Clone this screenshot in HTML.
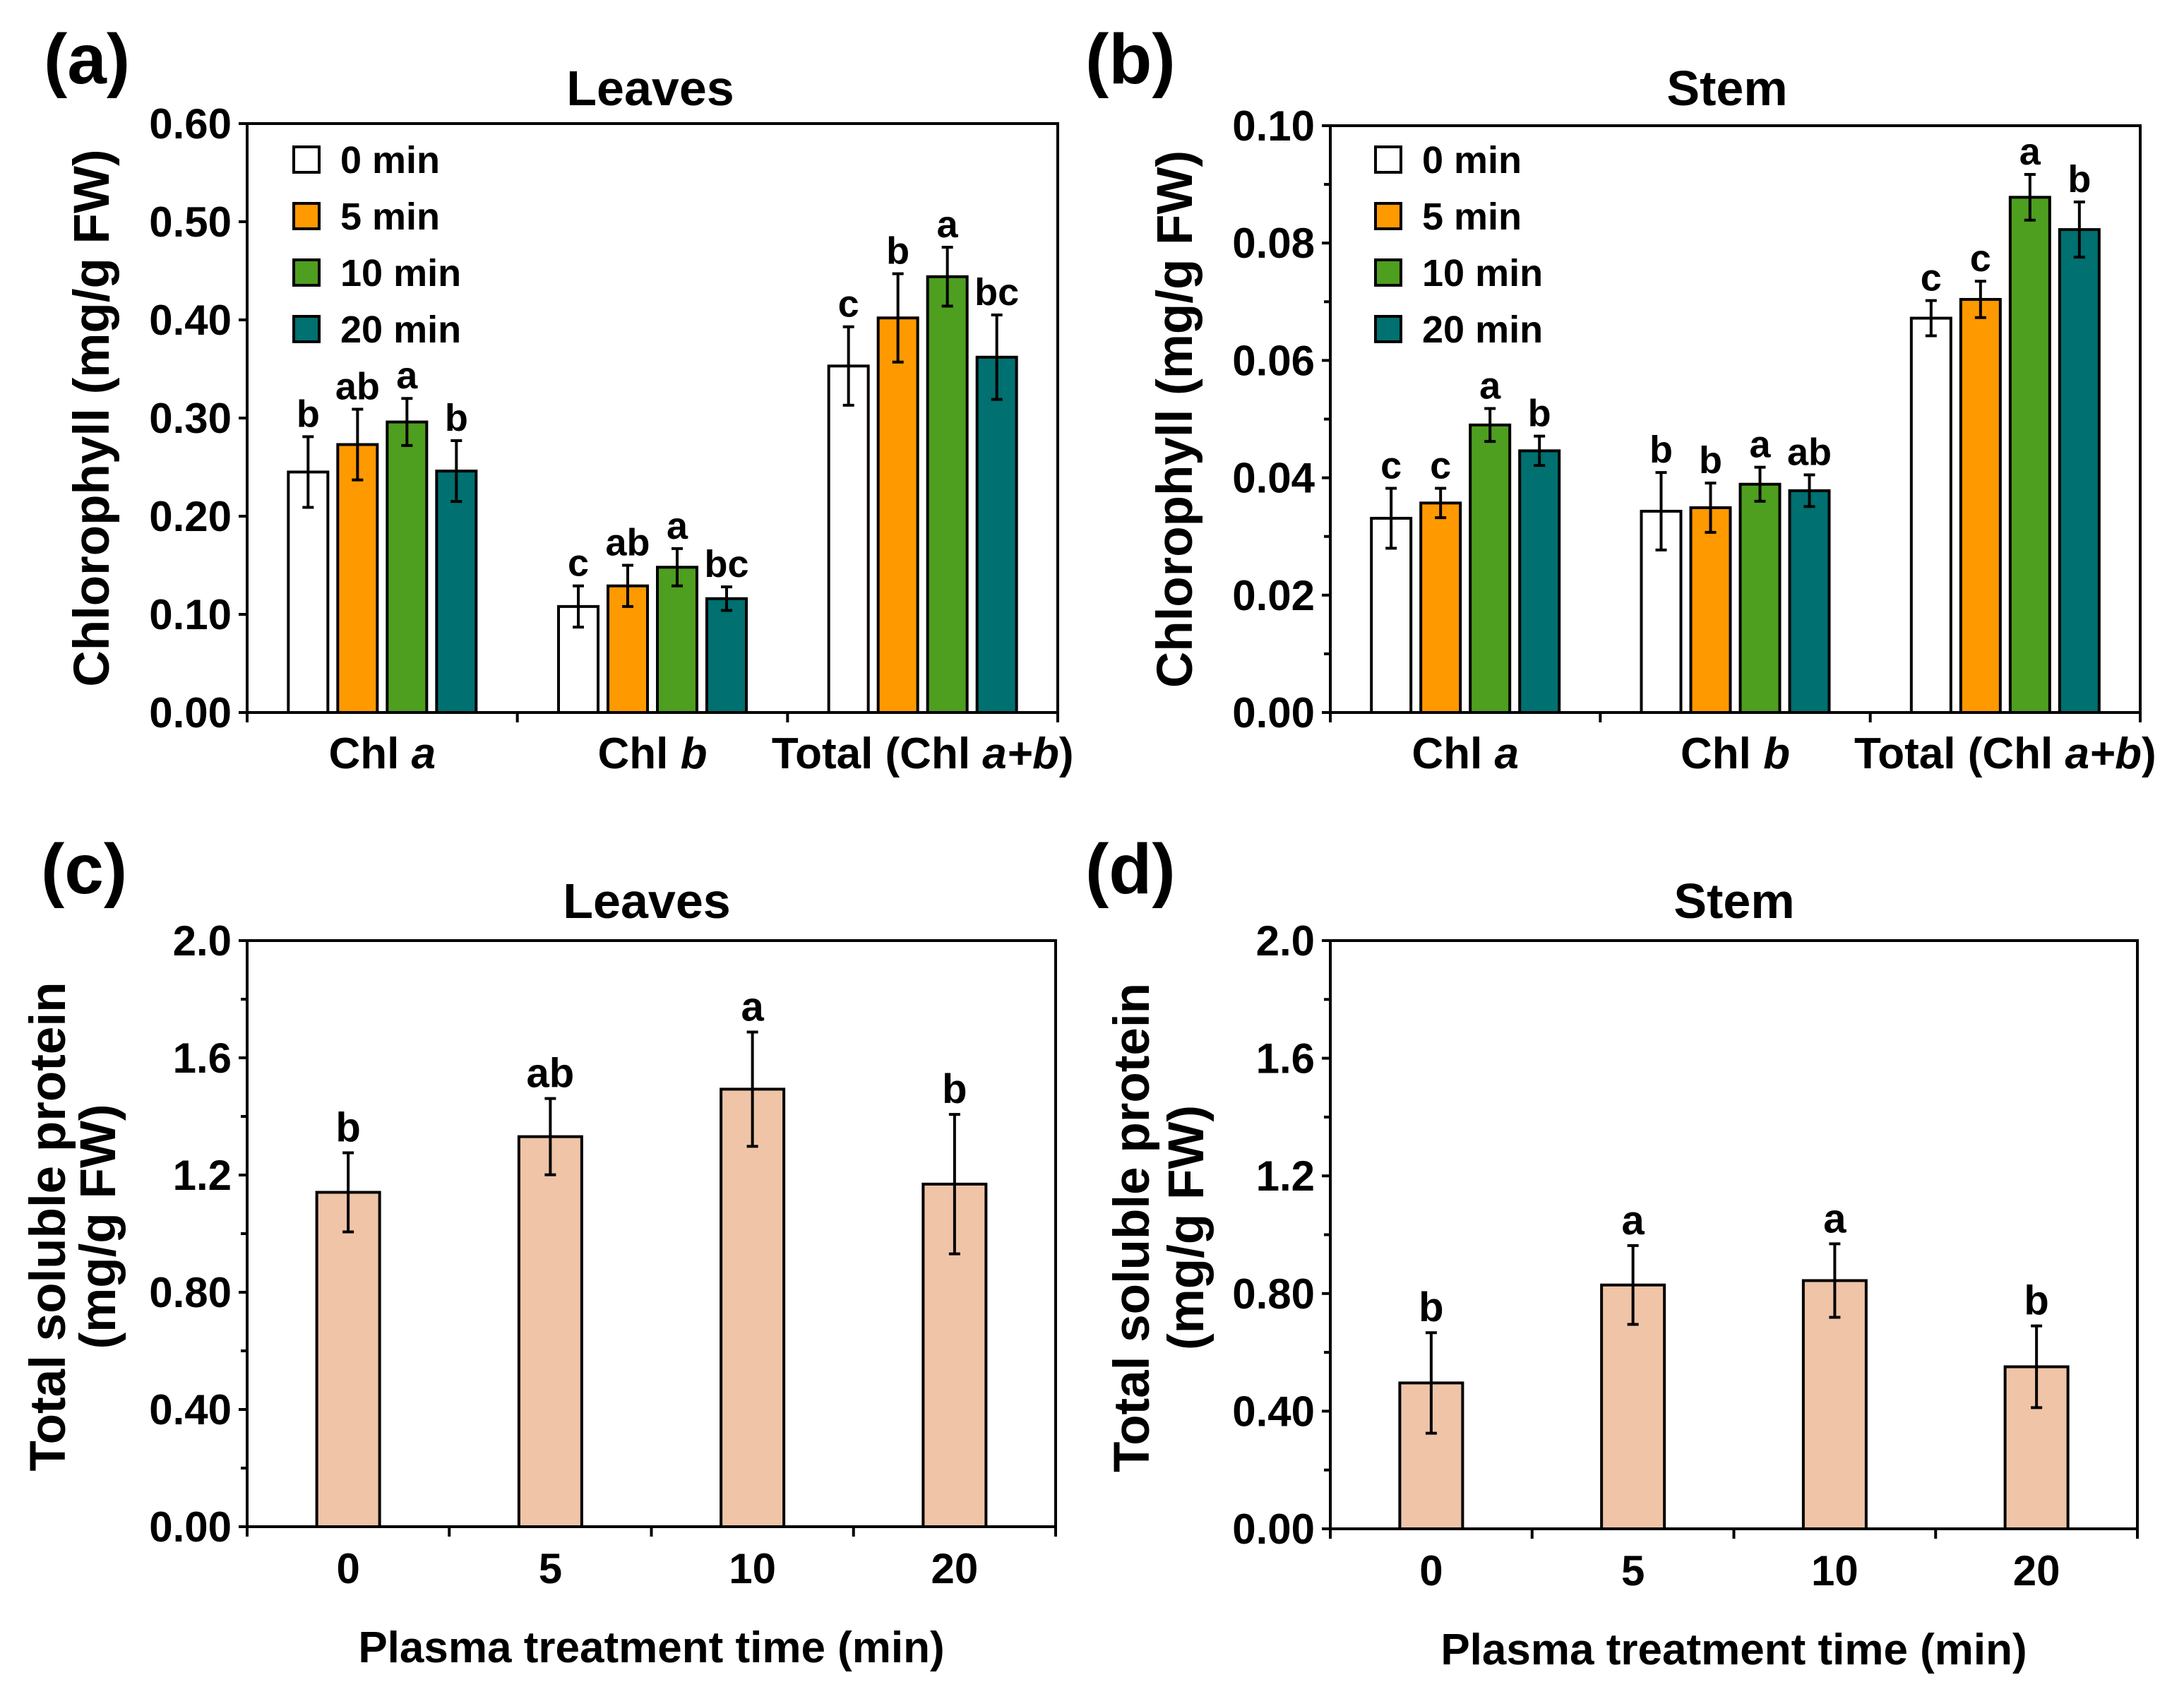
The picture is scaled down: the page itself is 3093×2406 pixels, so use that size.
<!DOCTYPE html>
<html><head><meta charset="utf-8">
<style>
html,body{margin:0;padding:0;background:#fff;}
svg{display:block;font-family:"Liberation Sans",Arial,sans-serif;font-weight:bold;}
</style></head>
<body>
<svg id="fig" width="3093" height="2406" viewBox="0 0 3093 2406" xmlns="http://www.w3.org/2000/svg"></svg>
<script>
// ---- Data ----
const chlGroups = ["Chl a", "Chl b", "Total (Chl a+b)"];
const seriesNames = ["0 min", "5 min", "10 min", "20 min"];
const seriesColors = ["#ffffff", "#ff9900", "#4e9e20", "#007070"];

const leavesChl0 = [0.245, 0.108, 0.353];
const leavesChl5 = [0.273, 0.129, 0.402];
const leavesChl10 = [0.296, 0.148, 0.444];
const leavesChl20 = [0.246, 0.116, 0.362];
const leavesChlErr0 = [0.036, 0.021, 0.040];
const leavesChlErr5 = [0.036, 0.021, 0.045];
const leavesChlErr10 = [0.024, 0.019, 0.030];
const leavesChlErr20 = [0.031, 0.012, 0.043];
const leavesChlLetters0 = ["b", "c", "c"];
const leavesChlLetters5 = ["ab", "ab", "b"];
const leavesChlLetters10 = ["a", "a", "a"];
const leavesChlLetters20 = ["b", "bc", "bc"];
const leavesChlTicks = [0, 0.1, 0.2, 0.3, 0.4, 0.5, 0.6];
const leavesChlTickLabels = ["0.00", "0.10", "0.20", "0.30", "0.40", "0.50", "0.60"];

const stemChl0 = [0.0331, 0.0343, 0.0672];
const stemChl5 = [0.0357, 0.0349, 0.0704];
const stemChl10 = [0.0490, 0.0389, 0.0878];
const stemChl20 = [0.0446, 0.0378, 0.0823];
const stemChlErr0 = [0.0051, 0.0066, 0.0030];
const stemChlErr5 = [0.0025, 0.0042, 0.0031];
const stemChlErr10 = [0.0028, 0.0029, 0.0039];
const stemChlErr20 = [0.0025, 0.0027, 0.0047];
const stemChlLetters0 = ["c", "b", "c"];
const stemChlLetters5 = ["c", "b", "c"];
const stemChlLetters10 = ["a", "a", "a"];
const stemChlLetters20 = ["b", "ab", "b"];
const stemChlTicks = [0, 0.02, 0.04, 0.06, 0.08, 0.10];
const stemChlTickLabels = ["0.00", "0.02", "0.04", "0.06", "0.08", "0.10"];
const stemChlMinor = [0.01, 0.03, 0.05, 0.07, 0.09];

const timeCats = ["0", "5", "10", "20"];
const leavesProt = [1.141, 1.331, 1.493, 1.169];
const leavesProtErr = [0.135, 0.130, 0.195, 0.238];
const leavesProtLetters = ["b", "ab", "a", "b"];
const stemProt = [0.496, 0.829, 0.844, 0.551];
const stemProtErr = [0.171, 0.134, 0.125, 0.139];
const stemProtLetters = ["b", "a", "a", "b"];
const protTicks = [0, 0.4, 0.8, 1.2, 1.6, 2.0];
const protTickLabels = ["0.00", "0.40", "0.80", "1.2", "1.6", "2.0"];
const protMinor = [0.2, 0.6, 1.0, 1.4, 1.8];

// ---- Helpers ----
const NS = "http://www.w3.org/2000/svg";
const svg = document.getElementById("fig");
function mk(tag, attrs, parent) {
  const e = document.createElementNS(NS, tag);
  for (const k in attrs) e.setAttribute(k, attrs[k]);
  (parent || svg).appendChild(e);
  return e;
}
function txt(str, x, y, size, anchor, parent, extra) {
  const t = mk("text", Object.assign({x: x, y: y, "font-size": size, "text-anchor": anchor || "middle", fill: "#000"}, extra || {}), parent);
  t.textContent = str;
  return t;
}
function catLabel(g, str, x, y) {
  const t = mk("text", {x: x, y: y, "font-size": 62, "text-anchor": "middle"}, g);
  const m = str.match(/^(.*?Chl )(a\+b|a|b)(\)?)$/);
  if (m) {
    const s1 = mk("tspan", {}, t); s1.textContent = m[1];
    const s2 = mk("tspan", {"font-style": "italic"}, t); s2.textContent = m[2];
    if (m[3]) { const s3 = mk("tspan", {}, t); s3.textContent = m[3]; }
  } else t.textContent = str;
  return t;
}

function drawAxesFrame(g, L, R, T, B, yScale, ticks, tickLabels, minor) {
  mk("rect", {x: L, y: T, width: R - L, height: B - T, fill: "none", stroke: "#000", "stroke-width": 4}, g);
  ticks.forEach((v, i) => {
    const y = yScale(v);
    const tk = mk("line", {x1: L - 12, x2: L, y1: y, y2: y, stroke: "#000", "stroke-width": 4}, g);
    
    
    const lb = txt(tickLabels[i], L - 22, y + 21, 60, "end", g);
    
    
  });
  (minor || []).forEach(v => {
    const y = yScale(v);
    const tk = mk("line", {x1: L - 9, x2: L, y1: y, y2: y, stroke: "#000", "stroke-width": 4}, g);
    
    
  });
}

function errBar(g, cx, yTop, yBot, yMid) {
  mk("line", {x1: cx, x2: cx, y1: yTop, y2: yBot, stroke: "#000", "stroke-width": 4}, g);
  mk("line", {x1: cx - 8, x2: cx + 8, y1: yTop, y2: yTop, stroke: "#000", "stroke-width": 4}, g);
  mk("line", {x1: cx - 8, x2: cx + 8, y1: yBot, y2: yBot, stroke: "#000", "stroke-width": 4}, g);
}

function chlPanel(opts) {
  const g = mk("g", {});
  
  
  const {L, R, T, B, max} = opts;
  const yScale = v => B - (v / max) * (B - T);
  const gw = (R - L) / chlGroups.length;
  const xCenter = i => L + gw * (i + 0.5);
  const barW = 56, step = 70;
  // bars
  opts.values.forEach((vals, s) => {
    vals.forEach((v, i) => {
      const cx = xCenter(i) + (s - 1.5) * step;
      const r = mk("rect", {x: cx - barW / 2, y: yScale(v), width: barW, height: B - yScale(v), fill: seriesColors[s], stroke: "#000", "stroke-width": 4}, g);
      
      
      const e = opts.errs[s][i];
      errBar(g, cx, yScale(v + e), yScale(v - e));
      const lt = txt(opts.letters[s][i], cx, yScale(v + e) - 14, 54, "middle", g);
      
      
    });
  });
  drawAxesFrame(g, L, R, T, B, yScale, opts.ticks, opts.tickLabels, opts.minor);
  // x ticks
  for (let i = 0; i <= chlGroups.length; i++) {
    const x = L + gw * i;
    const tk = mk("line", {x1: x, x2: x, y1: B, y2: B + 14, stroke: "#000", "stroke-width": 4}, g);
    
    
  }
  chlGroups.forEach((c, i) => {
    const t = catLabel(g, c, xCenter(i), 1088);
    
    
  });
  // legend
  seriesNames.forEach((n, s) => {
    const cy = 226 + s * 80;
    const lg = mk("g", {}, g);
    
    
    mk("rect", {x: opts.legX, y: cy - 18, width: 36, height: 36, fill: seriesColors[s], stroke: "#000", "stroke-width": 4}, lg);
    txt(n, opts.legX + 66, cy + 19, 54, "start", lg);
  });
  const ti = txt(opts.title, opts.titleX, 149, 70, "middle", g);
  
  
  const yt = txt("Chlorophyll (mg/g FW)", 0, 0, 71, "middle", g, {transform: "translate(" + opts.yTitleX + "," + ((T + B) / 2) + ") rotate(-90)"});
  
  
  const pl = txt(opts.panel, opts.panelX, 118, 100, "start", g);
  
  
}

function protPanel(opts) {
  const g = mk("g", {});
  
  
  const {L, R, T, B} = opts;
  const max = 2.0;
  const yScale = v => B - (v / max) * (B - T);
  const cw = (R - L) / timeCats.length;
  const xCenter = i => L + cw * (i + 0.5);
  const barW = 89;
  opts.values.forEach((v, i) => {
    const cx = xCenter(i);
    const r = mk("rect", {x: cx - barW / 2, y: yScale(v), width: barW, height: B - yScale(v), fill: "#efc4a7", stroke: "#000", "stroke-width": 4}, g);
    
    
    const e = opts.errs[i];
    errBar(g, cx, yScale(v + e), yScale(v - e));
    const lt = txt(opts.letters[i], cx, yScale(v + e) - 16, 58, "middle", g);
    
    
  });
  drawAxesFrame(g, L, R, T, B, yScale, protTicks, protTickLabels, protMinor);
  for (let i = 0; i <= timeCats.length; i++) {
    const x = L + cw * i;
    const tk = mk("line", {x1: x, x2: x, y1: B, y2: B + 14, stroke: "#000", "stroke-width": 4}, g);
    
    
  }
  timeCats.forEach((c, i) => {
    const t = txt(c, xCenter(i), B + 80, 60, "middle", g);
    
    
  });
  const xt = txt("Plasma treatment time (min)", (L + R) / 2, B + 192, 62, "middle", g);
  
  
  const ti = txt(opts.title, opts.titleX, 1300, 70, "middle", g);
  
  
  const cy = (T + B) / 2 - 10;
  const y1 = txt("Total soluble protein", 0, 0, 71, "middle", g, {transform: "translate(" + opts.yTitleX1 + "," + cy + ") rotate(-90)"});
  
  
  const y2 = txt("(mg/g FW)", 0, 0, 71, "middle", g, {transform: "translate(" + opts.yTitleX2 + "," + cy + ") rotate(-90)"});
  
  
  const pl = txt(opts.panel, opts.panelX, 1265, 100, "start", g);
  
  
}

chlPanel({name: "panel-a-leaves-chlorophyll", L: 350, R: 1498, T: 175, B: 1009, max: 0.6,
  values: [leavesChl0, leavesChl5, leavesChl10, leavesChl20],
  errs: [leavesChlErr0, leavesChlErr5, leavesChlErr10, leavesChlErr20],
  letters: [leavesChlLetters0, leavesChlLetters5, leavesChlLetters10, leavesChlLetters20],
  ticks: leavesChlTicks, tickLabels: leavesChlTickLabels, minor: [],
  legX: 416, title: "Leaves", titleX: 921, yTitleX: 154, panel: "(a)", panelX: 62});

chlPanel({name: "panel-b-stem-chlorophyll", L: 1884, R: 3031, T: 178, B: 1009, max: 0.10,
  values: [stemChl0, stemChl5, stemChl10, stemChl20],
  errs: [stemChlErr0, stemChlErr5, stemChlErr10, stemChlErr20],
  letters: [stemChlLetters0, stemChlLetters5, stemChlLetters10, stemChlLetters20],
  ticks: stemChlTicks, tickLabels: stemChlTickLabels, minor: stemChlMinor,
  legX: 1948, title: "Stem", titleX: 2446, yTitleX: 1688, panel: "(b)", panelX: 1537});

protPanel({name: "panel-c-leaves-protein", L: 350, R: 1495, T: 1332, B: 2162,
  values: leavesProt, errs: leavesProtErr, letters: leavesProtLetters,
  title: "Leaves", titleX: 916, yTitleX1: 92, yTitleX2: 163, panel: "(c)", panelX: 58});

protPanel({name: "panel-d-stem-protein", L: 1884, R: 3027, T: 1332, B: 2165,
  values: stemProt, errs: stemProtErr, letters: stemProtLetters,
  title: "Stem", titleX: 2456, yTitleX1: 1627, yTitleX2: 1704, panel: "(d)", panelX: 1537});
</script>
</body></html>
